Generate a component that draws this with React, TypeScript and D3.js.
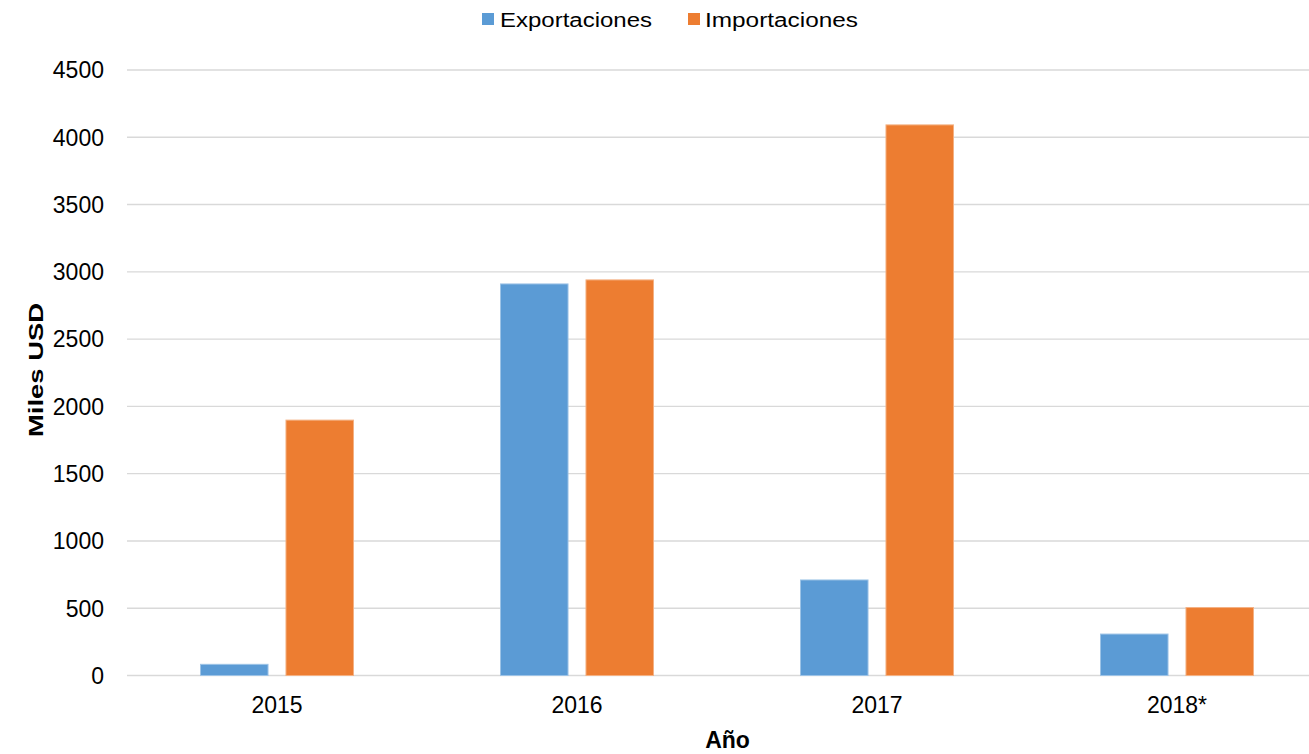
import React from 'react';
import * as d3 from 'd3';

const categories = ['2015', '2016', '2017', '2018*'];
const seriesNames = ['Exportaciones', 'Importaciones'];
const exportaciones = [83, 2910, 710, 308];
const importaciones = [1898, 2940, 4092, 505];
const yTicks = [0, 500, 1000, 1500, 2000, 2500, 3000, 3500, 4000, 4500];
const colors = ['#5B9BD5', '#ED7D31'];
const strokes = ['#9DC3E6', '#F4B183'];

const W = 1309;
const H = 754;
const FONT = '"Liberation Sans", Arial, sans-serif';

export default function App() {
  const x0 = d3.scaleBand<string>().domain(categories).range([127, 1327]).paddingInner(0.49).paddingOuter(0.245);
  const x1 = d3.scaleBand<string>().domain(seriesNames).range([0, x0.bandwidth()]).paddingInner(0.21);
  const y = d3.scaleLinear().domain([0, 4500]).range([675.5, 70]);
  const values = [exportaciones, importaciones];

  return (
    <svg width={W} height={H} style={{ position: 'absolute', left: 0, top: 0, background: '#fff' }} fontFamily={FONT}>
      <rect x={0} y={0} width={W} height={H} fill="#fff" />
      {yTicks.map((t) => (
        <g key={t}>
          <line x1={127} x2={1327} y1={y(t)} y2={y(t)} stroke="#d9d9d9" strokeWidth={1.4} />
          <text x={104} y={y(t)} dy="0.36em" textAnchor="end" fontSize={23} fill="#000">
            {t}
          </text>
        </g>
      ))}
      {categories.map((c, i) => (
        <g key={c}>
          {seriesNames.map((s, j) => {
            const v = values[j][i];
            return (
              <rect
                key={s}
                x={(x0(c) ?? 0) + (x1(s) ?? 0)}
                y={y(v)}
                width={x1.bandwidth()}
                height={y(0) - y(v)}
                fill={colors[j]}
                stroke={strokes[j]}
                strokeWidth={1}
              />
            );
          })}
          <text x={(x0(c) ?? 0) + x0.bandwidth() / 2} y={713.3} textAnchor="middle" fontSize={23} fill="#000">
            {c}
          </text>
        </g>
      ))}
      <text x={727.5} y={748.3} textAnchor="middle" fontSize={23} fontWeight="bold" fill="#000">
        Año
      </text>
      <text
        transform={`translate(43, 370) rotate(-90)`}
        textAnchor="middle"
        fontSize={20.5}
        fontWeight="bold"
        fill="#000"
        textLength={134}
        lengthAdjust="spacingAndGlyphs"
      >
        Miles USD
      </text>
      {/* legend */}
      <rect x={482} y={13} width={12} height={12} fill={colors[0]} />
      <text x={500} y={26.7} fontSize={20} fill="#000" textLength={152} lengthAdjust="spacingAndGlyphs">
        {seriesNames[0]}
      </text>
      <rect x={688} y={13} width={12} height={12} fill={colors[1]} />
      <text x={705} y={26.7} fontSize={20} fill="#000" textLength={153} lengthAdjust="spacingAndGlyphs">
        {seriesNames[1]}
      </text>
    </svg>
  );
}
